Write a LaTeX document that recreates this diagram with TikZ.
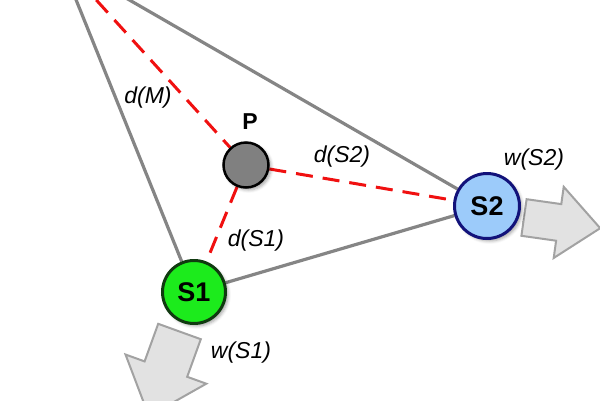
\documentclass[tikz,border=0pt]{standalone}
\usepackage{fontspec}
\setmainfont{Liberation Sans}
\usetikzlibrary{shadows.blur}
\pgfdeclarelayer{bg}
\pgfsetlayers{bg,main}
\definecolor{lnGray}{HTML}{858585}
\definecolor{dRed}{HTML}{F01010}
\definecolor{sOneFill}{HTML}{1CEB1C}
\definecolor{sOneDraw}{HTML}{103A10}
\definecolor{sTwoFill}{HTML}{9CCBFA}
\definecolor{sTwoDraw}{HTML}{12127A}
\definecolor{pFill}{HTML}{808080}
\definecolor{arFill}{HTML}{E2E2E2}
\definecolor{arDraw}{HTML}{A2A2A2}
\tikzset{
  grayline/.style={draw=lnGray, line width=3.2pt},
  redline/.style={draw=dRed, line width=3pt, dash pattern=on 17pt off 10pt},
  site/.style={circle, line width=3pt, inner sep=0pt, font=\fontsize{27}{27}\selectfont\bfseries,
    blur shadow={shadow xshift=2.5pt, shadow yshift=-2.5pt, shadow blur radius=3pt, shadow opacity=35}},
  bigarrow/.style={fill=arFill, draw=arDraw, line width=2pt, line join=miter},
  lbl/.style={font=\fontsize{23}{23}\selectfont\itshape, inner sep=0pt}
}
\begin{document}
\begin{tikzpicture}[x=1pt, y=-1pt]
\useasboundingbox (0,0) rectangle (600,400);
\clip (0,0) rectangle (600,400);
\coordinate (M) at (60,-40);
% nodes
\node[site, minimum size=63pt, draw=sOneDraw, fill=sOneFill] (S1) at (194,292) {S1};
\node[site, minimum size=65pt, draw=sTwoDraw, fill=sTwoFill] (S2) at (487,206) {S2};
\node[site, minimum size=45pt, draw=black, fill=pFill, line width=2.5pt] (P) at (246,165) {};
\begin{pgfonlayer}{bg}
% weight arrows
\draw[bigarrow] (158.2,323.8) -- (144.6,361.4) -- (125.5,354.5) -- (148.9,416.1)
  -- (206.3,383.7) -- (187.2,376.8) -- (200.8,339.2) -- cycle;
\draw[bigarrow] (526.6,199.2) -- (561.3,204.1) -- (563.7,186.8) -- (600.2,228.2)
  -- (553.7,258) -- (556.1,240.7) -- (521.4,235.8) -- cycle;
% connectors
\draw[grayline] (M) -- (S1);
\draw[grayline] (M) -- (S2);
\draw[grayline] (S1) -- (S2);
\draw[redline] (M) -- (P);
\draw[redline] (P) -- (S1);
\draw[redline] (P) -- (S2);
\end{pgfonlayer}
% labels
\node[font=\fontsize{23}{23}\selectfont\bfseries, inner sep=0pt] (lP) at (250,122) {P};
\node[lbl] (lM) at (148,98) {d(M)};
\node[lbl] (lS2) at (342,157) {d(S2)};
\node[lbl] (lS1) at (256,241) {d(S1)};
\node[lbl] (lw2) at (534,160) {w(S2)};
\node[lbl] (lw1) at (241,353) {w(S1)};
\end{tikzpicture}
\end{document}
